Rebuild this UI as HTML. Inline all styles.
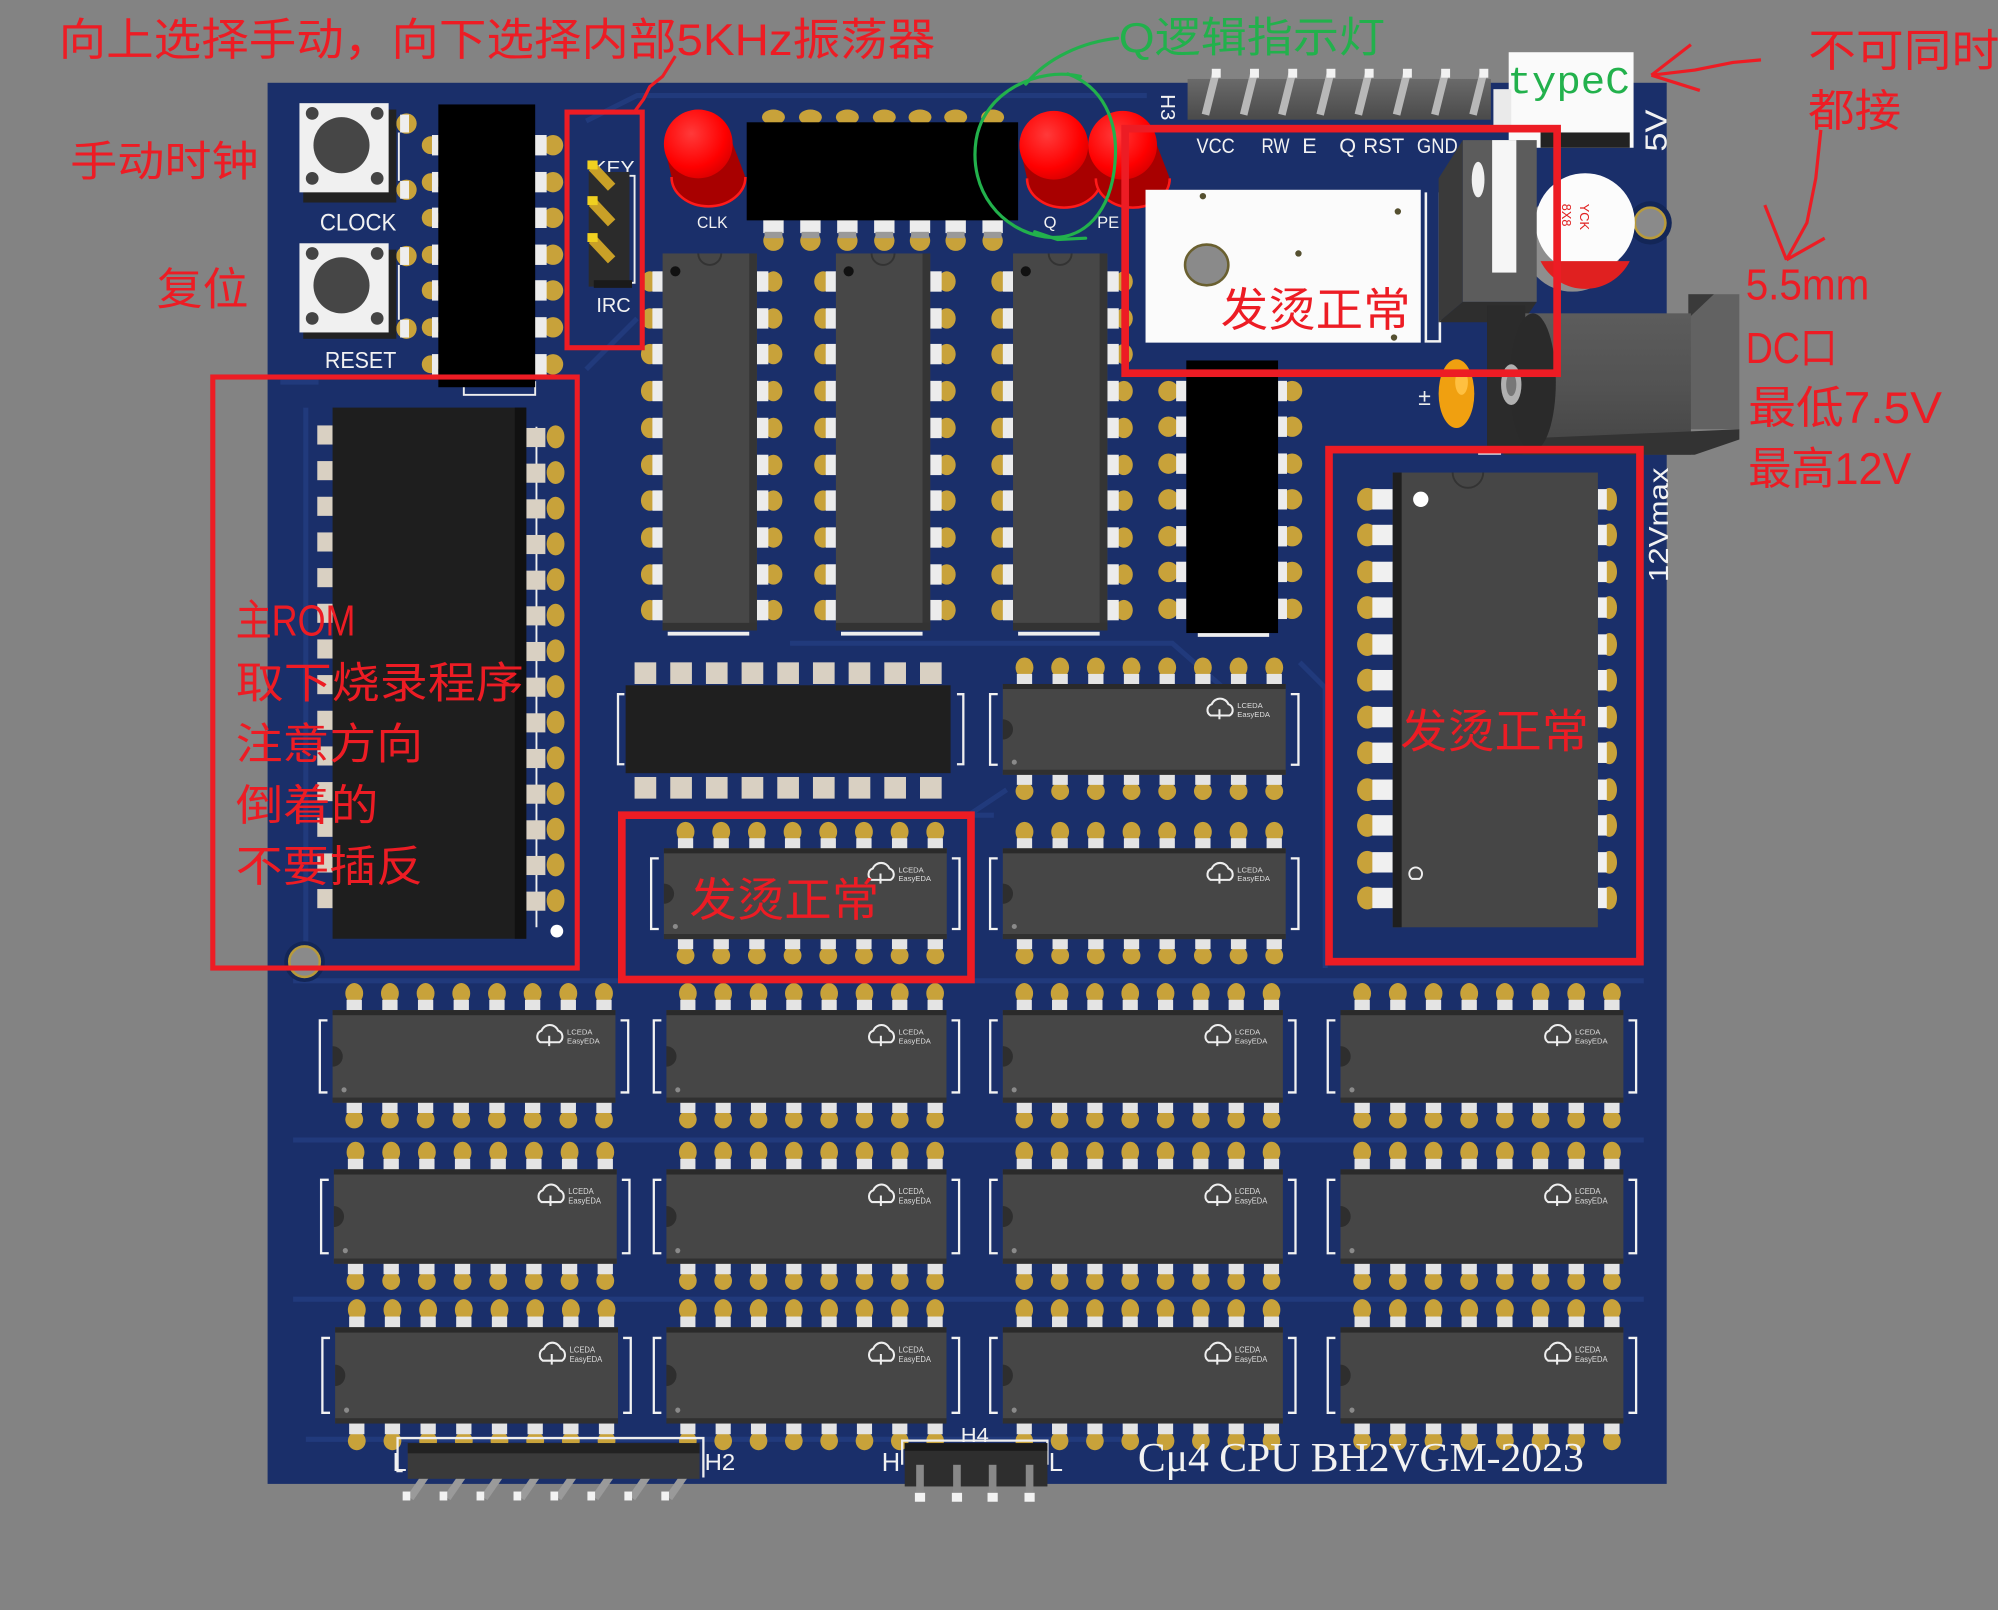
<!DOCTYPE html>
<html><head><meta charset="utf-8"><style>html,body{margin:0;padding:0;background:#838383;overflow:hidden}svg{display:block}</style></head>
<body>
<svg xmlns="http://www.w3.org/2000/svg" xmlns:xlink="http://www.w3.org/1999/xlink" width="1998" height="1610" viewBox="0 0 1568 1264" preserveAspectRatio="none">
<defs>
<radialGradient id="ledg" cx="0.4" cy="0.35" r="0.7"><stop offset="0" stop-color="#ff3a3a"/><stop offset="0.7" stop-color="#ff0000"/><stop offset="1" stop-color="#d80000"/></radialGradient>
<linearGradient id="cyl" x1="0" y1="0" x2="0" y2="1"><stop offset="0" stop-color="#5c5c5c"/><stop offset="0.5" stop-color="#535353"/><stop offset="1" stop-color="#444"/></linearGradient>
<linearGradient id="hdr" x1="0" y1="0" x2="0" y2="1"><stop offset="0" stop-color="#6a6a6a"/><stop offset="1" stop-color="#4a4a4a"/></linearGradient>
<g id="dip">
 <g fill="#c8a23a">
  <ellipse cx="17" cy="-13" rx="7" ry="8"/><ellipse cx="45" cy="-13" rx="7" ry="8"/><ellipse cx="73" cy="-13" rx="7" ry="8"/><ellipse cx="101" cy="-13" rx="7" ry="8"/><ellipse cx="129" cy="-13" rx="7" ry="8"/><ellipse cx="157" cy="-13" rx="7" ry="8"/><ellipse cx="185" cy="-13" rx="7" ry="8"/><ellipse cx="213" cy="-13" rx="7" ry="8"/>
  <ellipse cx="17" cy="85" rx="7" ry="7"/><ellipse cx="45" cy="85" rx="7" ry="7"/><ellipse cx="73" cy="85" rx="7" ry="7"/><ellipse cx="101" cy="85" rx="7" ry="7"/><ellipse cx="129" cy="85" rx="7" ry="7"/><ellipse cx="157" cy="85" rx="7" ry="7"/><ellipse cx="185" cy="85" rx="7" ry="7"/><ellipse cx="213" cy="85" rx="7" ry="7"/>
 </g>
 <g fill="#e4e4e4">
  <rect x="11" y="-8" width="12" height="9"/><rect x="39" y="-8" width="12" height="9"/><rect x="67" y="-8" width="12" height="9"/><rect x="95" y="-8" width="12" height="9"/><rect x="123" y="-8" width="12" height="9"/><rect x="151" y="-8" width="12" height="9"/><rect x="179" y="-8" width="12" height="9"/><rect x="207" y="-8" width="12" height="9"/>
  <rect x="11" y="71" width="12" height="9"/><rect x="39" y="71" width="12" height="9"/><rect x="67" y="71" width="12" height="9"/><rect x="95" y="71" width="12" height="9"/><rect x="123" y="71" width="12" height="9"/><rect x="151" y="71" width="12" height="9"/><rect x="179" y="71" width="12" height="9"/><rect x="207" y="71" width="12" height="9"/>
 </g>
 <path d="M-4,8 H-10 V64 H-4 M226,8 H232 V64 H226" stroke="#f2f2f2" stroke-width="1.8" fill="none"/>
 <rect x="0" y="0" width="222" height="72" fill="#464646"/>
 <rect x="0" y="0" width="222" height="4" fill="#2a2a2a"/>
 <rect x="0" y="68" width="222" height="4" fill="#303030"/>
 <path d="M0,28 A8,8 0 0 1 0,44 Z" fill="#2e2e2e"/>
 <circle cx="9" cy="62" r="2" fill="#8a8a8a"/>
 <path d="M163,25 a5,5 0 0 1 1,-9 a7,7 0 0 1 13,0 a5,5 0 0 1 1,9 z M170,20 v8" stroke="#eee" stroke-width="1.6" fill="none"/>
 <text x="184" y="19" font-family="Liberation Sans, sans-serif" font-size="6" fill="#ddd">LCEDA</text>
 <text x="184" y="26" font-family="Liberation Sans, sans-serif" font-size="6" fill="#ddd">EasyEDA</text>
</g>
<g id="vdip">
 <g fill="#c8a23a">
  <ellipse cx="-10" cy="22" rx="7" ry="8"/><ellipse cx="-10" cy="51" rx="7" ry="8"/><ellipse cx="-10" cy="79" rx="7" ry="8"/><ellipse cx="-10" cy="108" rx="7" ry="8"/><ellipse cx="-10" cy="137" rx="7" ry="8"/><ellipse cx="-10" cy="166" rx="7" ry="8"/><ellipse cx="-10" cy="194" rx="7" ry="8"/><ellipse cx="-10" cy="223" rx="7" ry="8"/><ellipse cx="-10" cy="252" rx="7" ry="8"/><ellipse cx="-10" cy="280" rx="7" ry="8"/>
  <ellipse cx="87" cy="22" rx="7" ry="8"/><ellipse cx="87" cy="51" rx="7" ry="8"/><ellipse cx="87" cy="79" rx="7" ry="8"/><ellipse cx="87" cy="108" rx="7" ry="8"/><ellipse cx="87" cy="137" rx="7" ry="8"/><ellipse cx="87" cy="166" rx="7" ry="8"/><ellipse cx="87" cy="194" rx="7" ry="8"/><ellipse cx="87" cy="223" rx="7" ry="8"/><ellipse cx="87" cy="252" rx="7" ry="8"/><ellipse cx="87" cy="280" rx="7" ry="8"/>
 </g>
 <g fill="#ececec">
  <rect x="-8" y="14" width="8" height="16"/><rect x="-8" y="43" width="8" height="16"/><rect x="-8" y="71" width="8" height="16"/><rect x="-8" y="100" width="8" height="16"/><rect x="-8" y="129" width="8" height="16"/><rect x="-8" y="158" width="8" height="16"/><rect x="-8" y="186" width="8" height="16"/><rect x="-8" y="215" width="8" height="16"/><rect x="-8" y="244" width="8" height="16"/><rect x="-8" y="272" width="8" height="16"/>
  <rect x="74" y="14" width="9" height="16"/><rect x="74" y="43" width="9" height="16"/><rect x="74" y="71" width="9" height="16"/><rect x="74" y="100" width="9" height="16"/><rect x="74" y="129" width="9" height="16"/><rect x="74" y="158" width="9" height="16"/><rect x="74" y="186" width="9" height="16"/><rect x="74" y="215" width="9" height="16"/><rect x="74" y="244" width="9" height="16"/><rect x="74" y="272" width="9" height="16"/>
 </g>
 <rect x="4" y="297" width="64" height="3" fill="#eee"/>
 <rect x="0" y="0" width="74" height="296" fill="#474747"/>
 <rect x="68" y="0" width="6" height="296" fill="#353535"/>
 <rect x="0" y="290" width="74" height="6" fill="#333"/>
 <path d="M28,0 A9,9 0 0 0 46,0" stroke="#333" stroke-width="1.5" fill="none"/>
 <circle cx="10" cy="14" r="4" fill="#111"/>
</g>
<g id="led">
 <path d="M-27,0 L-21,26 A29,23 0 0 0 37,26 L27,0 Z" fill="#a80000"/>
 <path d="M-21,26 A29,23 0 0 0 37,26" stroke="#ff1a1a" stroke-width="2" fill="none"/>
 <circle cx="0" cy="0" r="27" fill="url(#ledg)"/>
</g>
</defs>

<rect x="0" y="0" width="1568" height="1264" fill="#838383"/>

<!-- board -->
<rect x="210" y="65" width="1098" height="1100" fill="#1a2f6a"/>
<g stroke="#213a7c" stroke-width="4" fill="none">
 <path d="M220,300 H250 M460,95 L500,75 H900"/>
 <path d="M230,770 H1290 M230,895 H1290 M230,1020 H1290 M240,1130 H880"/>
 <path d="M460,290 L500,250 M620,505 H920 L960,540 M620,640 H780 M760,640 L790,620"/>
 <path d="M1020,520 L1040,540 V760 M240,320 V740"/>
</g>

<!-- mounting holes -->
<circle cx="239" cy="755" r="16" fill="#132657"/>
<circle cx="239" cy="755" r="12" fill="#8a8a8a" stroke="#b89a3a" stroke-width="2"/>
<circle cx="1295" cy="175" r="17" fill="#132657"/>
<circle cx="1295" cy="175" r="12" fill="#8a8a8a" stroke="#b89a3a" stroke-width="2"/>

<!-- buttons -->
<g>
 <circle cx="319" cy="97" r="8" fill="#c8a23a"/><rect x="314" y="90" width="7" height="14" fill="#eee"/>
 <circle cx="319" cy="149" r="8" fill="#c8a23a"/><rect x="314" y="142" width="7" height="14" fill="#eee"/>
 <circle cx="319" cy="201" r="8" fill="#c8a23a"/><rect x="314" y="194" width="7" height="14" fill="#eee"/>
 <circle cx="319" cy="258" r="8" fill="#c8a23a"/><rect x="314" y="251" width="7" height="14" fill="#eee"/>
 <path d="M313,104 V142 M313,208 V251" stroke="#eee" stroke-width="1.5"/>
 <rect x="238" y="86" width="73" height="73" fill="#222"/>
 <rect x="235" y="81" width="70" height="70" fill="#f0f0f0"/>
 <circle cx="268" cy="114" r="22" fill="#464646"/>
 <circle cx="245" cy="89" r="5" fill="#444"/><circle cx="296" cy="89" r="5" fill="#444"/><circle cx="245" cy="140" r="5" fill="#444"/><circle cx="296" cy="140" r="5" fill="#444"/>
 <rect x="238" y="196" width="73" height="70" fill="#222"/>
 <rect x="235" y="191" width="70" height="70" fill="#f0f0f0"/>
 <circle cx="268" cy="224" r="22" fill="#464646"/>
 <circle cx="245" cy="199" r="5" fill="#444"/><circle cx="296" cy="199" r="5" fill="#444"/><circle cx="245" cy="250" r="5" fill="#444"/><circle cx="296" cy="250" r="5" fill="#444"/>
 <text x="251" y="181" font-family="Liberation Sans, sans-serif" font-size="19" fill="#f2f2f2" textLength="60" lengthAdjust="spacingAndGlyphs">CLOCK</text>
 <text x="255" y="289" font-family="Liberation Sans, sans-serif" font-size="18" fill="#f2f2f2" textLength="56" lengthAdjust="spacingAndGlyphs">RESET</text>
</g>

<!-- censored chip 1 -->
<g>
 <g fill="#c8a23a"><circle cx="434" cy="114" r="8"/><circle cx="434" cy="143" r="8"/><circle cx="434" cy="171" r="8"/><circle cx="434" cy="200" r="8"/><circle cx="434" cy="228" r="8"/><circle cx="434" cy="257" r="8"/><circle cx="434" cy="286" r="8"/>
 <circle cx="338" cy="114" r="7"/><circle cx="338" cy="143" r="7"/><circle cx="338" cy="171" r="7"/><circle cx="338" cy="200" r="7"/><circle cx="338" cy="228" r="7"/><circle cx="338" cy="257" r="7"/><circle cx="338" cy="286" r="7"/></g>
 <g fill="#ececec"><rect x="418" y="106" width="11" height="16"/><rect x="418" y="135" width="11" height="16"/><rect x="418" y="163" width="11" height="16"/><rect x="418" y="192" width="11" height="16"/><rect x="418" y="220" width="11" height="16"/><rect x="418" y="249" width="11" height="16"/><rect x="418" y="278" width="11" height="16"/>
 <rect x="339" y="106" width="5" height="16"/><rect x="339" y="135" width="5" height="16"/><rect x="339" y="163" width="5" height="16"/><rect x="339" y="192" width="5" height="16"/><rect x="339" y="220" width="5" height="16"/><rect x="339" y="249" width="5" height="16"/><rect x="339" y="278" width="5" height="16"/></g>
 <rect x="364" y="300" width="56" height="10" fill="none" stroke="#eee" stroke-width="1.5"/>
 <rect x="344" y="82" width="76" height="222" fill="#000"/>
</g>

<!-- jumper KEY/IRC -->
<g>
 <text x="465" y="137" font-family="Liberation Sans, sans-serif" font-size="15" fill="#f2f2f2" textLength="33" lengthAdjust="spacingAndGlyphs">KEY</text>
 <path d="M494,138 H498 V222 H494" stroke="#eee" stroke-width="1.5" fill="none"/>
 <rect x="462" y="135" width="32" height="90" fill="#2b2b2b"/>
 <rect x="466" y="220" width="30" height="6" fill="#1a1a1a"/>
 <g stroke="#c9a027" stroke-width="8"><path d="M465,131 L480,147"/><path d="M465,159 L480,175"/><path d="M465,188 L480,204"/></g>
 <g fill="#f0d020"><rect x="461" y="126" width="8" height="7"/><rect x="461" y="154" width="8" height="7"/><rect x="461" y="183" width="8" height="7"/></g>
 <text x="468" y="245" font-family="Liberation Sans, sans-serif" font-size="16" fill="#f2f2f2" textLength="27" lengthAdjust="spacingAndGlyphs">IRC</text>
</g>

<!-- top black chip -->
<g>
 <g fill="#c8a23a"><ellipse cx="607" cy="92" rx="9" ry="6"/><ellipse cx="636" cy="92" rx="9" ry="6"/><ellipse cx="665" cy="92" rx="9" ry="6"/><ellipse cx="694" cy="92" rx="9" ry="6"/><ellipse cx="722" cy="92" rx="9" ry="6"/><ellipse cx="750" cy="92" rx="9" ry="6"/><ellipse cx="779" cy="92" rx="9" ry="6"/>
 <ellipse cx="607" cy="189" rx="8" ry="8"/><ellipse cx="636" cy="189" rx="8" ry="8"/><ellipse cx="665" cy="189" rx="8" ry="8"/><ellipse cx="694" cy="189" rx="8" ry="8"/><ellipse cx="722" cy="189" rx="8" ry="8"/><ellipse cx="750" cy="189" rx="8" ry="8"/><ellipse cx="779" cy="189" rx="8" ry="8"/></g>
 <g fill="#ececec"><rect x="599" y="172" width="16" height="11"/><rect x="628" y="172" width="16" height="11"/><rect x="657" y="172" width="16" height="11"/><rect x="686" y="172" width="16" height="11"/><rect x="714" y="172" width="16" height="11"/><rect x="742" y="172" width="16" height="11"/><rect x="771" y="172" width="16" height="11"/></g>
 <g fill="#999"><rect x="600" y="182" width="14" height="5"/><rect x="629" y="182" width="14" height="5"/><rect x="658" y="182" width="14" height="5"/><rect x="687" y="182" width="14" height="5"/><rect x="715" y="182" width="14" height="5"/><rect x="743" y="182" width="14" height="5"/><rect x="772" y="182" width="14" height="5"/></g>
 <rect x="586" y="96" width="213" height="77" fill="#000"/>
</g>

<!-- LEDs -->
<use xlink:href="#led" href="#led" transform="translate(548,113)"/>
<use xlink:href="#led" href="#led" transform="translate(827,114)"/>
<use xlink:href="#led" href="#led" transform="translate(881,114)"/>
<g font-family="Liberation Sans, sans-serif" font-size="13" fill="#f2f2f2">
 <text x="547" y="179" textLength="24" lengthAdjust="spacingAndGlyphs">CLK</text>
 <text x="819" y="179">Q</text>
 <text x="861" y="179">PE</text>
</g>

<!-- vertical DIPs -->
<use xlink:href="#vdip" href="#vdip" transform="translate(520,199)"/>
<use xlink:href="#vdip" href="#vdip" transform="translate(656,199)"/>
<use xlink:href="#vdip" href="#vdip" transform="translate(795,199)"/>

<!-- censored chip 2 -->
<g>
 <g fill="#c8a23a"><circle cx="917" cy="307" r="8"/><circle cx="917" cy="335" r="8"/><circle cx="917" cy="364" r="8"/><circle cx="917" cy="392" r="8"/><circle cx="917" cy="421" r="8"/><circle cx="917" cy="449" r="8"/><circle cx="917" cy="478" r="8"/>
 <circle cx="1014" cy="307" r="8"/><circle cx="1014" cy="335" r="8"/><circle cx="1014" cy="364" r="8"/><circle cx="1014" cy="392" r="8"/><circle cx="1014" cy="421" r="8"/><circle cx="1014" cy="449" r="8"/><circle cx="1014" cy="478" r="8"/></g>
 <g fill="#ececec"><rect x="923" y="299" width="8" height="16"/><rect x="923" y="327" width="8" height="16"/><rect x="923" y="356" width="8" height="16"/><rect x="923" y="384" width="8" height="16"/><rect x="923" y="413" width="8" height="16"/><rect x="923" y="441" width="8" height="16"/><rect x="923" y="470" width="8" height="16"/>
 <rect x="1003" y="299" width="7" height="16"/><rect x="1003" y="327" width="7" height="16"/><rect x="1003" y="356" width="7" height="16"/><rect x="1003" y="384" width="7" height="16"/><rect x="1003" y="413" width="7" height="16"/><rect x="1003" y="441" width="7" height="16"/><rect x="1003" y="470" width="7" height="16"/></g>
 <rect x="940" y="497" width="56" height="3" fill="#eee"/>
 <rect x="931" y="283" width="72" height="214" fill="#000"/>
</g>

<!-- H3 header -->
<g>
 <rect x="932" y="62" width="238" height="32" fill="url(#hdr)"/>
 <g stroke="#b8b8b8" stroke-width="6"><path d="M954,58 L946,90"/><path d="M984,58 L976,90"/><path d="M1014,58 L1006,90"/><path d="M1044,58 L1036,90"/><path d="M1074,58 L1066,90"/><path d="M1104,58 L1096,90"/><path d="M1134,58 L1126,90"/><path d="M1164,58 L1156,90"/></g>
 <g fill="#f2f2f2"><rect x="951" y="54" width="7" height="7"/><rect x="981" y="54" width="7" height="7"/><rect x="1011" y="54" width="7" height="7"/><rect x="1041" y="54" width="7" height="7"/><rect x="1071" y="54" width="7" height="7"/><rect x="1101" y="54" width="7" height="7"/><rect x="1131" y="54" width="7" height="7"/><rect x="1161" y="54" width="7" height="7"/></g>
 <text transform="translate(911,74) rotate(90)" font-family="Liberation Sans, sans-serif" font-size="16" fill="#f2f2f2">H3</text>
 <g font-family="Liberation Sans, sans-serif" font-size="17" fill="#f2f2f2">
  <text x="939" y="120" textLength="30" lengthAdjust="spacingAndGlyphs">VCC</text>
  <text x="990" y="120" textLength="22" lengthAdjust="spacingAndGlyphs">RW</text>
  <text x="1022" y="120">E</text>
  <text x="1051" y="120">Q</text>
  <text x="1070" y="120" textLength="32" lengthAdjust="spacingAndGlyphs">RST</text>
  <text x="1112" y="120" textLength="32" lengthAdjust="spacingAndGlyphs">GND</text>
 </g>
</g>

<!-- white module -->
<g>
 <rect x="899" y="149" width="216" height="120" fill="#fbfbfb"/>
 <path d="M1119,151 V268 H1130 V151" stroke="#f2f2f2" stroke-width="2" fill="none"/>
 <ellipse cx="947" cy="208" rx="17" ry="16" fill="#8a8a8a" stroke="#6a6030" stroke-width="2"/>
 <g fill="#555030"><circle cx="944" cy="154" r="2.5"/><circle cx="1097" cy="166" r="2.5"/><circle cx="1019" cy="199" r="2.5"/><circle cx="1094" cy="265" r="2.5"/></g>
</g>

<!-- typeC -->
<rect x="1184" y="41" width="98" height="75" fill="#fafafa"/>
<rect x="1172" y="70" width="14" height="30" fill="#eaeaea"/>
<rect x="1209" y="104" width="70" height="12" fill="#222"/>
<text x="1183" y="73" font-family="Liberation Mono, monospace" font-size="30" fill="#22b14c" textLength="96" lengthAdjust="spacingAndGlyphs">typeC</text>

<!-- capacitor -->
<g>
 <circle cx="1234" cy="190" r="39" fill="#8e8e8e"/>
 <circle cx="1244" cy="175" r="39" fill="#fcfcfc"/>
 <path d="M1209,205 H1279 A39,39 0 0 1 1209,205 Z" fill="#e02020"/>
 <text transform="translate(1226,160) rotate(90)" font-family="Liberation Sans, sans-serif" font-size="10" fill="#e02020">8X8</text>
 <text transform="translate(1240,160) rotate(90)" font-family="Liberation Sans, sans-serif" font-size="10" fill="#e02020">YCK</text>
</g>

<!-- regulator -->
<g>
 <polygon points="1129,140 1148,110 1148,237 1129,253" fill="#3a3a3a"/>
 <rect x="1148" y="110" width="58" height="127" fill="#5c5c5c"/>
 <polygon points="1129,253 1148,237 1206,237 1195,253" fill="#2e2e2e"/>
 <rect x="1171" y="110" width="19" height="104" fill="#f6f6f6"/>
 <ellipse cx="1160" cy="141" rx="5" ry="14" fill="#f0f0f0"/>
</g>

<!-- orange cap -->
<ellipse cx="1143" cy="309" rx="14" ry="27" fill="#f0a010"/>
<ellipse cx="1147" cy="300" rx="5" ry="10" fill="#ffc040"/>
<text x="1113" y="318" font-family="Liberation Sans, sans-serif" font-size="18" fill="#eee">±</text>

<!-- DC jack -->
<g>
 <rect x="1325" y="231" width="40" height="106" fill="#626262"/>
 <polygon points="1325,231 1345,231 1325,250" fill="#3a3a3a"/>
 <rect x="1195" y="246" width="132" height="111" fill="url(#cyl)"/>
 <polygon points="1180,345 1365,337 1365,345 1330,357 1180,357" fill="#333"/>
 <rect x="1167" y="240" width="30" height="112" fill="#2b2b2b"/>
 <ellipse cx="1203" cy="300" rx="18" ry="54" fill="#2a2a2a"/>
 <ellipse cx="1186" cy="302" rx="8" ry="16" fill="#b0b0b0"/>
 <ellipse cx="1186" cy="302" rx="4" ry="9" fill="#777"/>
</g>
<text transform="translate(1308,119) rotate(-90)" font-family="Liberation Sans, sans-serif" font-size="24" fill="#f2f2f2" textLength="33" lengthAdjust="spacingAndGlyphs">5V</text>
<text transform="translate(1309,457) rotate(-90)" font-family="Liberation Sans, sans-serif" font-size="22" fill="#f2f2f2" textLength="90" lengthAdjust="spacingAndGlyphs">12Vmax</text>

<!-- left ROM -->
<g>
 <path d="M421,335 V728" stroke="#eee" stroke-width="1.5"/>
 <g fill="#c8a23a"><ellipse cx="436" cy="343" rx="7" ry="9"/><ellipse cx="436" cy="371" rx="7" ry="9"/><ellipse cx="436" cy="399" rx="7" ry="9"/><ellipse cx="436" cy="427" rx="7" ry="9"/><ellipse cx="436" cy="455" rx="7" ry="9"/><ellipse cx="436" cy="483" rx="7" ry="9"/><ellipse cx="436" cy="511" rx="7" ry="9"/><ellipse cx="436" cy="539" rx="7" ry="9"/><ellipse cx="436" cy="567" rx="7" ry="9"/><ellipse cx="436" cy="595" rx="7" ry="9"/><ellipse cx="436" cy="623" rx="7" ry="9"/><ellipse cx="436" cy="651" rx="7" ry="9"/><ellipse cx="436" cy="679" rx="7" ry="9"/><ellipse cx="436" cy="707" rx="7" ry="9"/></g>
 <g fill="#d9d0c2"><rect x="413" y="336" width="15" height="15"/><rect x="413" y="364" width="15" height="15"/><rect x="413" y="392" width="15" height="15"/><rect x="413" y="420" width="15" height="15"/><rect x="413" y="448" width="15" height="15"/><rect x="413" y="476" width="15" height="15"/><rect x="413" y="504" width="15" height="15"/><rect x="413" y="532" width="15" height="15"/><rect x="413" y="560" width="15" height="15"/><rect x="413" y="588" width="15" height="15"/><rect x="413" y="616" width="15" height="15"/><rect x="413" y="644" width="15" height="15"/><rect x="413" y="672" width="15" height="15"/><rect x="413" y="700" width="15" height="15"/>
 <rect x="249" y="334" width="12" height="15"/><rect x="249" y="362" width="12" height="15"/><rect x="249" y="390" width="12" height="15"/><rect x="249" y="418" width="12" height="15"/><rect x="249" y="446" width="12" height="15"/><rect x="249" y="474" width="12" height="15"/><rect x="249" y="502" width="12" height="15"/><rect x="249" y="530" width="12" height="15"/><rect x="249" y="558" width="12" height="15"/><rect x="249" y="586" width="12" height="15"/><rect x="249" y="614" width="12" height="15"/><rect x="249" y="642" width="12" height="15"/><rect x="249" y="670" width="12" height="15"/><rect x="249" y="698" width="12" height="15"/></g>
 <rect x="261" y="320" width="152" height="417" fill="#1e1e1e"/>
 <rect x="404" y="320" width="9" height="417" fill="#111"/>
 <circle cx="437" cy="731" r="5" fill="#fff"/>
</g>

<!-- middle horizontal black chip -->
<g>
 <g fill="#d9d0c2"><rect x="498" y="520" width="17" height="17"/><rect x="526" y="520" width="17" height="17"/><rect x="554" y="520" width="17" height="17"/><rect x="582" y="520" width="17" height="17"/><rect x="610" y="520" width="17" height="17"/><rect x="638" y="520" width="17" height="17"/><rect x="666" y="520" width="17" height="17"/><rect x="694" y="520" width="17" height="17"/><rect x="722" y="520" width="17" height="17"/>
 <rect x="498" y="610" width="17" height="17"/><rect x="526" y="610" width="17" height="17"/><rect x="554" y="610" width="17" height="17"/><rect x="582" y="610" width="17" height="17"/><rect x="610" y="610" width="17" height="17"/><rect x="638" y="610" width="17" height="17"/><rect x="666" y="610" width="17" height="17"/><rect x="694" y="610" width="17" height="17"/><rect x="722" y="610" width="17" height="17"/></g>
 <path d="M490,545 H485 V600 H490 M751,545 H756 V600 H751" stroke="#eee" stroke-width="1.8" fill="none"/>
 <rect x="491" y="538" width="255" height="69" fill="#1f1f1f"/>
</g>

<!-- horizontal DIPs -->
<use xlink:href="#dip" href="#dip" transform="translate(787,537) scale(1,0.99)"/>
<use xlink:href="#dip" href="#dip" transform="translate(521,666) scale(1,0.99)"/>
<use xlink:href="#dip" href="#dip" transform="translate(787,666) scale(1,0.99)"/>
<use xlink:href="#dip" href="#dip" transform="translate(261,793) scale(1,1.01)"/>
<use xlink:href="#dip" href="#dip" transform="translate(523,793) scale(0.99,1.01)"/>
<use xlink:href="#dip" href="#dip" transform="translate(787,793) scale(0.99,1.01)"/>
<use xlink:href="#dip" href="#dip" transform="translate(1052,793) scale(1,1.01)"/>
<use xlink:href="#dip" href="#dip" transform="translate(262,918) scale(1,1.03)"/>
<use xlink:href="#dip" href="#dip" transform="translate(523,918) scale(0.99,1.03)"/>
<use xlink:href="#dip" href="#dip" transform="translate(787,918) scale(0.99,1.03)"/>
<use xlink:href="#dip" href="#dip" transform="translate(1052,918) scale(1,1.03)"/>
<use xlink:href="#dip" href="#dip" transform="translate(263,1042) scale(1,1.05)"/>
<use xlink:href="#dip" href="#dip" transform="translate(523,1042) scale(0.99,1.05)"/>
<use xlink:href="#dip" href="#dip" transform="translate(787,1042) scale(0.99,1.05)"/>
<use xlink:href="#dip" href="#dip" transform="translate(1052,1042) scale(1,1.05)"/>

<!-- right big chip -->
<g>
 <g fill="#c8a23a"><ellipse cx="1073" cy="392" rx="8" ry="9"/><ellipse cx="1073" cy="420" rx="8" ry="9"/><ellipse cx="1073" cy="449" rx="8" ry="9"/><ellipse cx="1073" cy="477" rx="8" ry="9"/><ellipse cx="1073" cy="506" rx="8" ry="9"/><ellipse cx="1073" cy="534" rx="8" ry="9"/><ellipse cx="1073" cy="563" rx="8" ry="9"/><ellipse cx="1073" cy="591" rx="8" ry="9"/><ellipse cx="1073" cy="620" rx="8" ry="9"/><ellipse cx="1073" cy="648" rx="8" ry="9"/><ellipse cx="1073" cy="677" rx="8" ry="9"/><ellipse cx="1073" cy="705" rx="8" ry="9"/>
 <ellipse cx="1263" cy="392" rx="6" ry="9"/><ellipse cx="1263" cy="420" rx="6" ry="9"/><ellipse cx="1263" cy="449" rx="6" ry="9"/><ellipse cx="1263" cy="477" rx="6" ry="9"/><ellipse cx="1263" cy="506" rx="6" ry="9"/><ellipse cx="1263" cy="534" rx="6" ry="9"/><ellipse cx="1263" cy="563" rx="6" ry="9"/><ellipse cx="1263" cy="591" rx="6" ry="9"/><ellipse cx="1263" cy="620" rx="6" ry="9"/><ellipse cx="1263" cy="648" rx="6" ry="9"/><ellipse cx="1263" cy="677" rx="6" ry="9"/><ellipse cx="1263" cy="705" rx="6" ry="9"/></g>
 <g fill="#f0f0f0"><rect x="1077" y="384" width="16" height="16"/><rect x="1077" y="412" width="16" height="16"/><rect x="1077" y="441" width="16" height="16"/><rect x="1077" y="469" width="16" height="16"/><rect x="1077" y="498" width="16" height="16"/><rect x="1077" y="526" width="16" height="16"/><rect x="1077" y="555" width="16" height="16"/><rect x="1077" y="583" width="16" height="16"/><rect x="1077" y="612" width="16" height="16"/><rect x="1077" y="640" width="16" height="16"/><rect x="1077" y="669" width="16" height="16"/><rect x="1077" y="697" width="16" height="16"/>
 <rect x="1254" y="384" width="7" height="16"/><rect x="1254" y="412" width="7" height="16"/><rect x="1254" y="441" width="7" height="16"/><rect x="1254" y="469" width="7" height="16"/><rect x="1254" y="498" width="7" height="16"/><rect x="1254" y="526" width="7" height="16"/><rect x="1254" y="555" width="7" height="16"/><rect x="1254" y="583" width="7" height="16"/><rect x="1254" y="612" width="7" height="16"/><rect x="1254" y="640" width="7" height="16"/><rect x="1254" y="669" width="7" height="16"/><rect x="1254" y="697" width="7" height="16"/></g>
 <rect x="1093" y="371" width="161" height="357" fill="#464646"/>
 <rect x="1093" y="371" width="7" height="357" fill="#1f1f1f"/>
 <path d="M1140,371 A12,12 0 0 0 1164,371" stroke="#333" stroke-width="1.5" fill="none"/>
 <circle cx="1115" cy="392" r="6" fill="#fff"/>
 <path d="M1108,690 a5,5 0 1 1 6,0 z" stroke="#eee" stroke-width="1.5" fill="none"/>
 <rect x="1160" y="352" width="18" height="5" fill="#e8e8e8"/>
</g>

<!-- bottom headers -->
<g>
 <path d="M316,1155 H312 V1129 H552 V1160" stroke="#eee" stroke-width="1.8" fill="none"/>
 <g stroke="#9a9a9a" stroke-width="6"><path d="M322,1176 L340,1150"/><path d="M351,1176 L369,1150"/><path d="M380,1176 L398,1150"/><path d="M409,1176 L427,1150"/><path d="M438,1176 L456,1150"/><path d="M467,1176 L485,1150"/><path d="M496,1176 L514,1150"/><path d="M525,1176 L543,1150"/></g>
 <rect x="320" y="1133" width="229" height="28" fill="#3a3a3a"/>
 <rect x="320" y="1133" width="229" height="8" fill="#222"/>
 <g fill="#f2f2f2"><rect x="316" y="1171" width="6" height="7"/><rect x="345" y="1171" width="6" height="7"/><rect x="374" y="1171" width="6" height="7"/><rect x="403" y="1171" width="6" height="7"/><rect x="432" y="1171" width="6" height="7"/><rect x="461" y="1171" width="6" height="7"/><rect x="490" y="1171" width="6" height="7"/><rect x="519" y="1171" width="6" height="7"/></g>
 <text x="308" y="1155" font-family="Liberation Sans, sans-serif" font-size="20" fill="#f2f2f2">L</text>
 <text x="553" y="1154" font-family="Liberation Sans, sans-serif" font-size="18" fill="#f2f2f2" textLength="24" lengthAdjust="spacingAndGlyphs">H2</text>

 <path d="M708,1150 V1131 H822 V1150" stroke="#eee" stroke-width="1.8" fill="none"/>
 <rect x="710" y="1133" width="112" height="34" fill="#2e2e2e"/>
 <rect x="710" y="1133" width="112" height="6" fill="#1a1a1a"/>
 <g fill="#888"><rect x="719" y="1150" width="6" height="22"/><rect x="748" y="1150" width="6" height="22"/><rect x="776" y="1150" width="6" height="22"/><rect x="805" y="1150" width="6" height="22"/></g>
 <g fill="#f2f2f2"><rect x="718" y="1172" width="8" height="7"/><rect x="747" y="1172" width="8" height="7"/><rect x="775" y="1172" width="8" height="7"/><rect x="804" y="1172" width="8" height="7"/></g>
 <text x="754" y="1132" font-family="Liberation Sans, sans-serif" font-size="16" fill="#f2f2f2" textLength="22" lengthAdjust="spacingAndGlyphs">H4</text>
 <text x="692" y="1155" font-family="Liberation Sans, sans-serif" font-size="20" fill="#f2f2f2">H</text>
 <text x="823" y="1155" font-family="Liberation Sans, sans-serif" font-size="20" fill="#f2f2f2">L</text>
 <text x="893" y="1155" font-family="Liberation Serif, serif" font-size="32" fill="#f2f2f2" textLength="350" lengthAdjust="spacingAndGlyphs">Cμ4 CPU BH2VGM-2023</text>
</g>

<!-- red boxes -->
<g fill="none" stroke="#ed1c24">
 <rect x="445" y="88" width="59" height="185" stroke-width="4"/>
 <rect x="167" y="296" width="286" height="464" stroke-width="4"/>
 <rect x="488" y="640" width="274" height="129" stroke-width="6"/>
 <rect x="883" y="101" width="339" height="192" stroke-width="6"/>
 <rect x="1043" y="353" width="244" height="402" stroke-width="6"/>
</g>

<!-- red annotation lines -->
<g fill="none" stroke="#ed1c24" stroke-width="2.5" stroke-linejoin="round">
 <path d="M530,44 L520,60 L510,68 L505,78 L497,89"/>
 <path d="M1382,47 L1360,49 L1330,55 L1296,59"/>
 <path d="M1296,59 L1327,35"/>
 <path d="M1296,59 L1334,71"/>
 <path d="M1429,102 L1425,140 L1418,175 L1402,204"/>
 <path d="M1402,204 L1385,161"/>
 <path d="M1402,204 L1432,187"/>
</g>

<!-- green annotation -->
<g fill="none" stroke="#22b14c" stroke-width="2.5" stroke-linecap="round">
 <path d="M877,30 C850,33 822,45 805,66"/>
 <path d="M848,60 C815,52 772,72 766,110 C760,150 786,181 820,186 C852,190 872,165 875,128 C878,94 865,68 838,58"/>
 <path d="M812,182 L830,188 L852,187"/>
</g>

<!-- annotation text -->
<g font-family="Liberation Sans, 'Noto Sans CJK SC', sans-serif" fill="#ed1c24">
 <text x="46" y="43" font-size="35" textLength="688" lengthAdjust="spacingAndGlyphs">向上选择手动，向下选择内部5KHz振荡器</text>
 <text x="55" y="138" font-size="33" textLength="148" lengthAdjust="spacingAndGlyphs">手动时钟</text>
 <text x="123" y="239" font-size="35" textLength="72" lengthAdjust="spacingAndGlyphs">复位</text>
 <text x="1419" y="52" font-size="35" textLength="150" lengthAdjust="spacingAndGlyphs">不可同时</text>
 <text x="1419" y="99" font-size="35" textLength="73" lengthAdjust="spacingAndGlyphs">都接</text>
 <text x="1370" y="235" font-size="34" textLength="97" lengthAdjust="spacingAndGlyphs">5.5mm</text>
 <text x="1370" y="285" font-size="34" textLength="72" lengthAdjust="spacingAndGlyphs">DC口</text>
 <text x="1372" y="332" font-size="35" textLength="152" lengthAdjust="spacingAndGlyphs">最低7.5V</text>
 <text x="1372" y="380" font-size="35" textLength="128" lengthAdjust="spacingAndGlyphs">最高12V</text>
 <text x="185" y="499" font-size="34" textLength="94" lengthAdjust="spacingAndGlyphs">主ROM</text>
 <text x="185" y="548" font-size="34" textLength="226" lengthAdjust="spacingAndGlyphs">取下烧录程序</text>
 <text x="185" y="596" font-size="34" textLength="147" lengthAdjust="spacingAndGlyphs">注意方向</text>
 <text x="185" y="644" font-size="34" textLength="112" lengthAdjust="spacingAndGlyphs">倒着的</text>
 <text x="185" y="692" font-size="34" textLength="147" lengthAdjust="spacingAndGlyphs">不要插反</text>
 <text x="958" y="256" font-size="36" textLength="149" lengthAdjust="spacingAndGlyphs">发烫正常</text>
 <text x="1099" y="587" font-size="36" textLength="148" lengthAdjust="spacingAndGlyphs">发烫正常</text>
 <text x="541" y="719" font-size="36" textLength="149" lengthAdjust="spacingAndGlyphs">发烫正常</text>
</g>
<text x="878" y="41" font-family="Liberation Sans, 'Noto Sans CJK SC', sans-serif" font-size="33" fill="#22b14c" textLength="209" lengthAdjust="spacingAndGlyphs">Q逻辑指示灯</text>
</svg>
</body></html>
